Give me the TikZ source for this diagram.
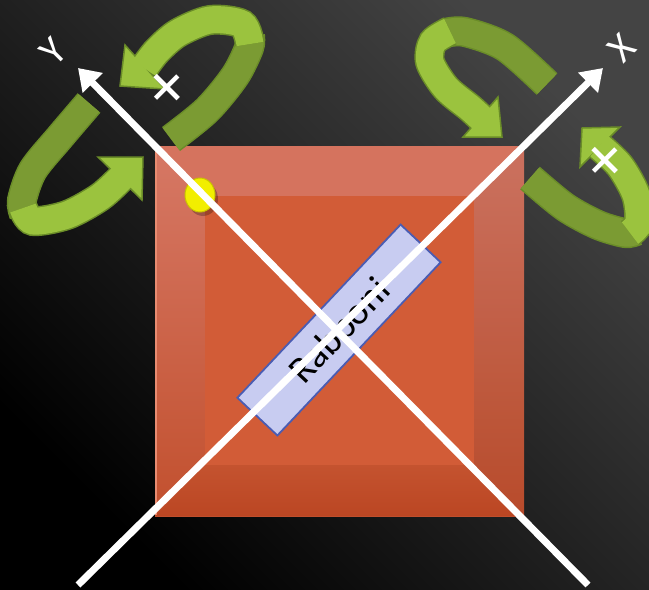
\documentclass[tikz,border=0pt]{standalone}
\usepackage{fontspec}
\setmainfont{Carlito}
\usepackage{tikz}
\usetikzlibrary{arrows.meta}
\definecolor{bgtop}{HTML}{444444}
\definecolor{bgmid}{HTML}{121212}
\definecolor{sqtop}{HTML}{D67865}
\definecolor{sqbot}{HTML}{C2502E}
\definecolor{sqhi}{HTML}{D5735E}
\definecolor{sqface}{HTML}{D25C37}
\definecolor{sqlow}{HTML}{C4532F}
\definecolor{sqlower}{HTML}{BB4623}
\definecolor{sqedge}{HTML}{E88B70}
\definecolor{grlight}{HTML}{9BC33E}
\definecolor{grdark}{HTML}{7B9B33}
\definecolor{gredge}{HTML}{6A8C28}
\definecolor{boxfill}{HTML}{C8CCF1}
\definecolor{boxedge}{HTML}{4A5CB3}
\definecolor{dotfill}{HTML}{F2EE00}
\definecolor{dotedge}{HTML}{C9C300}
\newcommand{\ribarrow}[3]{%
  \draw[ribedge] plot[smooth] coordinates {#1};
  \draw[ribdark] plot[smooth] coordinates {#1};
  \draw[ribedge] plot[smooth] coordinates {#2};
  \filldraw[headtip] #3;
  \draw[riblight] plot[smooth] coordinates {#2};}

\begin{document}
\begin{tikzpicture}[x=1pt, y=-1pt,
  axis/.style={draw=white, line width=7pt, -{Triangle[length=21pt,width=27pt]}},
  axlbl/.style={text=white, inner sep=0pt, rotate=45, font=\fontsize{40pt}{40pt}\selectfont},
  plus/.style={text=white, inner sep=0pt, rotate=45, font=\fontsize{70pt}{70pt}\selectfont},
  ribedge/.style={draw=gredge, line width=30pt},
  ribdark/.style={draw=grdark, line width=27pt},
  riblight/.style={draw=grlight, line width=27pt},
  headtip/.style={fill=grlight, draw=gredge, line width=1.5pt, line join=miter},
  lblbox/.style={draw=boxedge, fill=boxfill, line width=1.8pt, minimum width=238pt, minimum height=55pt, inner sep=0pt, rotate=46.7, font=\fontsize{38pt}{40pt}\selectfont}
]
\useasboundingbox (0,0) rectangle (649,590);
\shade[top color=bgtop, middle color=bgmid, bottom color=black, shading angle=-45] (0,0) rectangle (649,590);

% bevelled square
\shade[top color=sqtop, bottom color=sqbot] (155,146) rectangle (524,516);
\fill[sqhi] (155,146) -- (524,146) -- (474,196) -- (205,196) -- cycle;
\shade[top color=sqlow, bottom color=sqlower] (155,516) -- (524,516) -- (474,465) -- (205,465) -- cycle;
\fill[black, opacity=0.05] (524,146) -- (524,516) -- (474,465) -- (474,196) -- cycle;
\fill[sqface] (205,196) rectangle (474,465);
\draw[sqedge, line width=1.5pt] (156,147) -- (156,515);

% yellow dot
\fill[black, opacity=0.25] (203,199) ellipse[x radius=15, y radius=17];
\filldraw[fill=dotfill, draw=dotedge, line width=1pt] (200,195) ellipse[x radius=15, y radius=17];

\node[lblbox] (rab) at (339,330) {Rabboni};

% axes
\coordinate (xfoot) at (78,585);
\coordinate (xtip) at (603,68);
\coordinate (yfoot) at (588,585);
\coordinate (ytip) at (78,68);
\draw[axis] (xfoot) -- (xtip);
\draw[axis] (yfoot) -- (ytip);

% rotation arrows round Y
\ribarrow{(89,103) (60,137) (33,170) (22,200) (24,214)}
  {(23,208) (33,221) (67,215) (100,197) (122,177)}
  {(98,157) -- (143,157) -- (142,200) -- cycle}
\ribarrow{(171,139) (207,110) (235,76) (249,48) (250,36)}
  {(250,44) (242,24) (210,20) (178,33) (157,51) (144,68)}
  {(125,45) -- (120,86) -- (165,89) -- cycle}
% rotation arrows round X
\ribarrow{(547,84) (505,47) (465,32) (445,33)}
  {(450,31) (433,42) (430,62) (446,88) (470,108) (482,119)}
  {(498,97) -- (502,137) -- (463,137) -- cycle}
\ribarrow{(530,178) (565,207) (598,225) (625,233) (636,231)}
  {(630,233) (639,222) (636,195) (620,166) (599,146)}
  {(620,127) -- (582,128) -- (580,167) -- cycle}

\node[axlbl] (xlbl) at (622,48) {X};
\node[axlbl] (ylbl) at (53,52) {Y};
\node[plus] (yplus) at (169,90) {+};
\node[plus] (xplus) at (607,163) {+};
\end{tikzpicture}
\end{document}
